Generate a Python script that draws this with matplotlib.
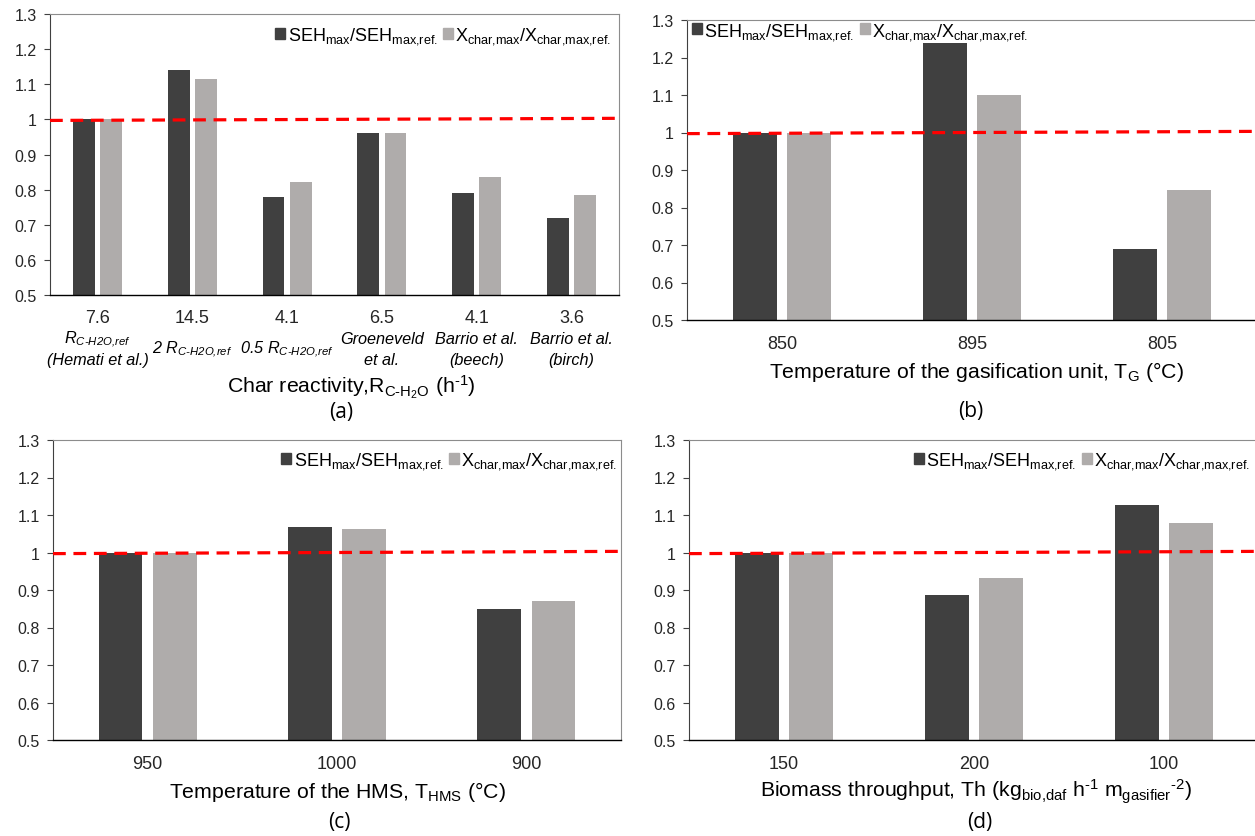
import numpy as np
import matplotlib
matplotlib.use("Agg")
import matplotlib.pyplot as plt
from matplotlib.patches import Patch

plt.rcParams['font.family'] = ['Liberation Sans', 'DejaVu Sans']
plt.rcParams['mathtext.default'] = 'regular'

# ---- data ----
ticks_a = ['7.6', '14.5', '4.1', '6.5', '4.1', '3.6']
names_a = [[r'$R_{C‐H2O{,}ref}$', '(Hemati et al.)'],
           [r'2 $R_{C‐H2O{,}ref}$'],
           [r'0.5 $R_{C‐H2O{,}ref}$'],
           ['Groeneveld', 'et al.'],
           ['Barrio et al.', '(beech)'],
           ['Barrio et al.', '(birch)']]
seh_a = [1.0, 1.14, 0.78, 0.96, 0.79, 0.72]
xch_a = [1.0, 1.115, 0.822, 0.96, 0.835, 0.785]

ticks_b = ['850', '895', '805']
seh_b = [1.0, 1.24, 0.69]
xch_b = [1.0, 1.10, 0.847]

ticks_c = ['950', '1000', '900']
seh_c = [1.0, 1.068, 0.85]
xch_c = [1.0, 1.063, 0.872]

ticks_d = ['150', '200', '100']
seh_d = [1.0, 0.886, 1.126]
xch_d = [1.0, 0.931, 1.078]

ref_line = [0.997, 1.003]
yticks = [0.5, 0.6, 0.7, 0.8, 0.9, 1.0, 1.1, 1.2, 1.3]

lab_seh = r'SEH$_{max}$/SEH$_{max{,}ref.}$'
lab_xch = r'X$_{char{,}max}$/X$_{char{,}max{,}ref.}$'

dark = '#404040'
light = '#AFACAB'
W, H = 1255, 837


def px_axes(fig, x0, y0, x1, y1):
    return fig.add_axes([x0 / W, 1 - y1 / H, (x1 - x0) / W, (y1 - y0) / H])


def draw_panel(ax, ticks, seh, xch, xlabel, letter, lx, ldx, ly, lyl,
               leg_loc, leg_anchor, tick_pad):
    n = len(ticks)
    x = np.arange(n)
    bw = 0.23
    off = 0.143
    ax.bar(x - off, seh, bw, color=dark, zorder=2)
    ax.bar(x + off, xch, bw, color=light, zorder=2)
    ax.set_xlim(-0.5, n - 0.5)
    ax.set_ylim(0.5, 1.3)
    ax.plot([0, 1], ref_line, transform=ax.get_yaxis_transform(), color='red',
            lw=2.3, dashes=(4.0, 2.4), zorder=3, clip_on=False)
    ax.set_yticks(yticks)
    ax.set_yticklabels(['%g' % v for v in yticks])
    ax.set_xticks(x)
    ax.set_xticklabels(ticks, fontsize=13)
    ax.tick_params(axis='x', length=0, pad=tick_pad, colors='#262626')
    ax.tick_params(axis='y', length=4.5, width=0.8, pad=5, labelsize=11.5,
                   colors='#404040', labelcolor='#262626')
    for s in ['top', 'right']:
        ax.spines[s].set_color('#8c8c8c')
        ax.spines[s].set_linewidth(0.8)
    ax.spines['left'].set_color('#404040')
    ax.spines['left'].set_linewidth(0.8)
    ax.spines['bottom'].set_color('#000000')
    ax.spines['bottom'].set_linewidth(1.0)
    ax.annotate(xlabel, xy=(lx, 0), xycoords='axes fraction', xytext=(0, -ly),
                textcoords='offset points', ha='center', va='center',
                fontsize=15.3, color='#000000')
    ax.annotate(letter, xy=(ldx, 0), xycoords='axes fraction', xytext=(0, -lyl),
                textcoords='offset points', ha='center', va='center',
                fontsize=15, color='#000000', family=['Open Sans', 'DejaVu Sans'])
    handles = [Patch(color=dark, label=lab_seh), Patch(color=light, label=lab_xch)]
    ax.legend(handles=handles, loc=leg_loc, bbox_to_anchor=leg_anchor, ncol=2,
              frameon=False, fontsize=13, handlelength=0.55, handleheight=0.55,
              handletextpad=0.12, columnspacing=0.3, borderpad=0,
              borderaxespad=0)


fig = plt.figure(figsize=(W / 100, H / 100), dpi=100)

ax_a = px_axes(fig, 50, 15, 619, 296)
draw_panel(ax_a, ticks_a, seh_a, xch_a,
           r'Char reactivity,R$_{C‐H_2O}$ (h$^{‐1}$)', '(a)',
           0.529, 0.511, 65.5, 84, 'center right', (0.986, 0.922), 10)
for i, lines in enumerate(names_a):
    if len(lines) == 1:
        offs = [38.5]
    else:
        offs = [31.5, 46.5]
    for t, o in zip(lines, offs):
        ax_a.annotate(t, xy=(i, 0), xycoords=ax_a.get_xaxis_transform(),
                      xytext=(0, -o), textcoords='offset points', ha='center',
                      va='center', fontsize=11.7, style='italic', color='#000000')

ax_b = px_axes(fig, 687, 21, 1257, 321)
draw_panel(ax_b, ticks_b, seh_b, xch_b,
           r'Temperature of the gasification unit, T$_G$ (°C)', '(b)',
           0.507, 0.498, 36.7, 65.5, 'center left', (0.009, 0.963), 11)

ax_c = px_axes(fig, 53, 441, 621, 741)
draw_panel(ax_c, ticks_c, seh_c, xch_c,
           r'Temperature of the HMS, T$_{HMS}$ (°C)', '(c)',
           0.501, 0.505, 36.7, 59, 'center right', (0.993, 0.93), 11)

ax_d = px_axes(fig, 689, 441, 1259, 741)
draw_panel(ax_d, ticks_d, seh_d, xch_d,
           r'Biomass throughput, Th (kg$_{bio{,}daf}$ h$^{‐1}$ m$_{gasifier}$$^{‐2}$)', '(d)',
           0.503, 0.51, 36.7, 59, 'center right', (0.984, 0.93), 11)

fig.savefig('out.png', dpi=100)
